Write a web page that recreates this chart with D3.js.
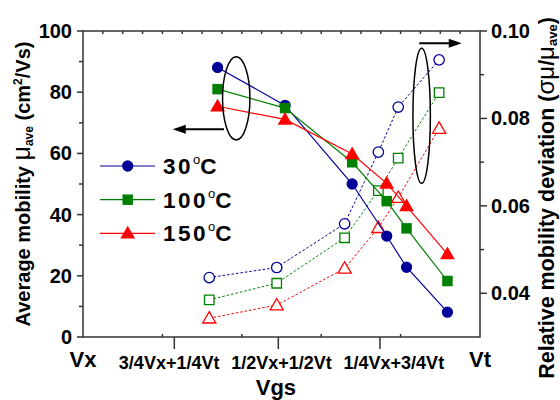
<!DOCTYPE html>
<head>
  <meta charset="utf-8">
  <script src="https://cdn.jsdelivr.net/npm/d3@7"></script>
  <style>
    body { margin: 0; background: #fff; }
    text {
      font-family: "Liberation Sans", Arial, sans-serif;
      font-weight: bold;
      fill: #000;
    }
    text.tickLabel { font-size: 20px; }
    text.catLabel { font-size: 18px; }
    text.endLabel { font-size: 22px; }
    text.axisTitle { font-size: 20px; }
    text.rightTitle { font-size: 21.5px; }
    text.legendText { font-size: 22.5px; }
    .frame { fill: none; stroke: #333; stroke-width: 1.5px; }
    .tick { stroke: #333; stroke-width: 1.5px; }
  </style>
</head>

<body>
  <svg width="560" height="400"></svg>
  <script>
    // ---- data ----
    const temps = ["30", "100", "150"];
    const colors = ["#000099", "#008000", "#ff0000"];
    const symbols = [d3.symbolCircle, d3.symbolSquare, d3.symbolTriangle];

    // x position of points, on a 0 (Vx) .. 10 (Vt) gate scale
    const xFilled = [3.39, 5.09, 6.78, 7.65, 8.15, 9.18];
    const xOpen = [3.18, 4.88, 6.59, 7.44, 7.94, 8.97];

    // average mobility (left axis)
    const mu30 = [88.1, 75.7, 50.0, 33.0, 22.8, 8.1];
    const mu100 = [81.0, 74.8, 57.1, 44.4, 35.5, 18.3];
    const mu150 = [75.4, 71.1, 59.8, 50.2, 42.8, 27.1];

    // relative mobility deviation (right axis)
    const dev30 = [0.0436, 0.0459, 0.0559, 0.0723, 0.0826, 0.0934];
    const dev100 = [0.0385, 0.0423, 0.0527, 0.0635, 0.0709, 0.0859];
    const dev150 = [0.0343, 0.0373, 0.0457, 0.0550, 0.0619, 0.0777];

    const leftTicks = [0, 20, 40, 60, 80, 100];
    const leftMinor = [10, 30, 50, 70, 90];
    const rightTicks = [0.04, 0.06, 0.08, 0.10];
    const rightMinor = [0.05, 0.07, 0.09];
    const catTicks = [2.3, 4.92, 7.48];
    const catLabels = ["3/4Vx+1/4Vt", "1/2Vx+1/2Vt", "1/4Vx+3/4Vt"];
    const catLabelPos = [2.17, 5.0, 7.83];

    const mus = [mu30, mu100, mu150];
    const devs = [dev30, dev100, dev150];

    // ---- layout ----
    const margin = { top: 31, right: 80, bottom: 63, left: 83 };
    const width = 560, height = 400;
    const svg = d3.select("svg");

    let x = d3.scaleLinear().domain([0, 10]).range([margin.left, width - margin.right]);
    let yL = d3.scaleLinear().domain([0, 100]).range([height - margin.bottom, margin.top]);
    let yR = d3.scaleLinear().domain([0.03, 0.10]).range([height - margin.bottom, margin.top]);

    const x0 = x.range()[0], x1 = x.range()[1];
    const yb = yL.range()[0], yt = yL.range()[1];

    // frame
    svg.append("rect").attr("class", "frame")
      .attr("x", x0).attr("y", yt)
      .attr("width", x1 - x0).attr("height", yb - yt);

    // left axis ticks (outward)
    svg.selectAll("line.lMaj").data(leftTicks).enter().append("line")
      .attr("class", "tick").attr("x1", x0 - 6).attr("x2", x0)
      .attr("y1", d => yL(d)).attr("y2", d => yL(d));
    svg.selectAll("line.lMin").data(leftMinor).enter().append("line")
      .attr("class", "tick").attr("x1", x0 - 4).attr("x2", x0)
      .attr("y1", d => yL(d)).attr("y2", d => yL(d));
    svg.selectAll("text.lLab").data(leftTicks).enter().append("text")
      .attr("class", "tickLabel")
      .attr("x", x0 - 11).attr("y", d => yL(d) + 7)
      .style("text-anchor", "end")
      .text(d => d);

    // right axis ticks (outward)
    svg.selectAll("line.rMaj").data(rightTicks).enter().append("line")
      .attr("class", "tick").attr("x1", x1).attr("x2", x1 + 7)
      .attr("y1", d => yR(d)).attr("y2", d => yR(d));
    svg.selectAll("line.rMin").data(rightMinor).enter().append("line")
      .attr("class", "tick").attr("x1", x1).attr("x2", x1 + 4)
      .attr("y1", d => yR(d)).attr("y2", d => yR(d));
    svg.selectAll("text.rLab").data(rightTicks).enter().append("text")
      .attr("class", "tickLabel")
      .attr("x", x1 + 11).attr("y", d => yR(d) + 7)
      .text(d => d3.format(".2f")(d));

    // top and bottom small inward ticks
    svg.selectAll("line.tMin").data(d3.range(1, 20).map(i => i / 2)).enter().append("line")
      .attr("class", "tick").attr("x1", d => x(d)).attr("x2", d => x(d))
      .attr("y1", yt).attr("y2", yt + 3);
    svg.selectAll("line.bMin").data([2, 4, 6, 8]).enter().append("line")
      .attr("class", "tick").attr("x1", d => x(d)).attr("x2", d => x(d))
      .attr("y1", yb).attr("y2", yb - 3);

    // category ticks below axis
    svg.selectAll("line.cat").data(catTicks).enter().append("line")
      .attr("class", "tick").attr("x1", d => x(d)).attr("x2", d => x(d))
      .attr("y1", yb).attr("y2", yb + 12);
    svg.selectAll("text.cat").data(catLabels).enter().append("text")
      .attr("class", "catLabel")
      .attr("x", (d, i) => x(catLabelPos[i])).attr("y", yb + 32)
      .style("text-anchor", "middle")
      .text(d => d);
    svg.append("text").attr("class", "endLabel")
      .attr("x", x(0)).attr("y", yb + 30).style("text-anchor", "middle").text("Vx");
    svg.append("text").attr("class", "endLabel")
      .attr("x", x(10)).attr("y", yb + 30).style("text-anchor", "middle").text("Vt");
    svg.append("text").attr("class", "endLabel")
      .attr("x", x(4.86)).attr("y", yb + 58).style("text-anchor", "middle").text("Vgs");

    // axis titles
    let lt = svg.append("text").attr("class", "axisTitle")
      .attr("transform", `translate(30, ${(yt + yb) / 2}) rotate(-90)`)
      .style("text-anchor", "middle");
    lt.append("tspan").text("Average mobility ");
    lt.append("tspan").style("font-size", "25px").style("font-weight", "normal").text("\u03bc");
    lt.append("tspan").style("font-size", "12px").attr("dy", 3).text("ave");
    lt.append("tspan").attr("dy", -3).text(" (cm");
    lt.append("tspan").style("font-size", "12px").attr("dy", -8).text("2");
    lt.append("tspan").attr("dy", 8).text("/Vs)");

    let rt = svg.append("text").attr("class", "rightTitle")
      .attr("transform", `translate(554, ${(yt + yb) / 2 + 14}) rotate(-90)`)
      .style("text-anchor", "middle");
    rt.append("tspan").text("Relative mobility deviation (");
    rt.append("tspan").style("font-size", "24px").style("font-weight", "normal").text("\u03c3\u03bc");
    rt.append("tspan").text("/");
    rt.append("tspan").style("font-size", "24px").style("font-weight", "normal").text("\u03bc");
    rt.append("tspan").style("font-size", "13px").attr("dy", 3).text("ave");
    rt.append("tspan").attr("dy", -3).text(")");

    // open series (right axis), dotted
    devs.forEach((s, k) => {
      let pts = s.map((v, i) => [xOpen[i], v]);
      svg.append("path")
        .datum(pts)
        .attr("fill", "none")
        .attr("stroke", colors[k])
        .attr("stroke-width", 1)
        .attr("stroke-dasharray", "2.5,2")
        .attr("d", d3.line().x(d => x(d[0])).y(d => yR(d[1])));
      svg.selectAll("path.open" + k).data(pts).enter().append("path")
        .attr("transform", d => `translate(${x(d[0])},${yR(d[1]) + (k == 2 ? 1 : 0)})`)
        .attr("d", d3.symbol().type(symbols[k]).size(k == 0 ? 85 : (k == 1 ? 90 : 75)))
        .attr("fill", "#fff")
        .attr("stroke", colors[k])
        .attr("stroke-width", 1.3);
    });

    // filled series (left axis), solid
    mus.forEach((s, k) => {
      let pts = s.map((v, i) => [xFilled[i], v]);
      svg.append("path")
        .datum(pts)
        .attr("fill", "none")
        .attr("stroke", colors[k])
        .attr("stroke-width", 1.2)
        .attr("d", d3.line().x(d => x(d[0])).y(d => yL(d[1])));
      svg.selectAll("path.fill" + k).data(pts).enter().append("path")
        .attr("transform", d => `translate(${x(d[0])},${yL(d[1]) + (k == 2 ? 1 : 0)})`)
        .attr("d", d3.symbol().type(symbols[k]).size(k == 0 ? 100 : (k == 1 ? 110 : 95)))
        .attr("fill", colors[k]);
    });

    // ellipses and arrows
    const arrowHead = (xa, ya, dir) => {
      svg.append("path")
        .attr("d", `M${xa},${ya} l${-13 * dir},-4.5 l0,9 z`)
        .attr("fill", "#000");
    };
    svg.append("ellipse")
      .attr("cx", x(3.86)).attr("cy", yL(78))
      .attr("rx", x(3.86 + 0.345) - x(3.86)).attr("ry", yL(78 - 13.6) - yL(78))
      .attr("fill", "none").attr("stroke", "#000").attr("stroke-width", 1.5);
    svg.append("line")
      .attr("x1", x(3.55)).attr("x2", x(2.4)).attr("y1", yL(67.9)).attr("y2", yL(67.9))
      .attr("stroke", "#000").attr("stroke-width", 2);
    arrowHead(x(2.26), yL(67.9), -1);

    svg.append("ellipse")
      .attr("cx", x(8.53)).attr("cy", yR(0.0806))
      .attr("rx", x(8.53 + 0.22) - x(8.53)).attr("ry", yR(0.0806 - 0.01544) - yR(0.0806))
      .attr("fill", "none").attr("stroke", "#000").attr("stroke-width", 1.5);
    svg.append("line")
      .attr("x1", x(8.47)).attr("x2", x(9.4)).attr("y1", yR(0.0972)).attr("y2", yR(0.0972))
      .attr("stroke", "#000").attr("stroke-width", 2);
    arrowHead(x(9.54), yR(0.0972), 1);

    // legend
    const legY = [166, 199.7, 233.3];
    temps.forEach((t, k) => {
      svg.append("line")
        .attr("x1", 100).attr("x2", 155).attr("y1", legY[k]).attr("y2", legY[k])
        .attr("stroke", colors[k]).attr("stroke-width", 1.2);
      svg.append("path")
        .attr("transform", `translate(127.7,${legY[k] + (k == 2 ? 1 : 0)})`)
        .attr("d", d3.symbol().type(symbols[k]).size(k == 0 ? 100 : (k == 1 ? 110 : 95)))
        .attr("fill", colors[k]);
      let lg = svg.append("text").attr("class", "legendText")
        .attr("x", 163).attr("y", legY[k] + 8);
      lg.append("tspan").style("letter-spacing", "2.5px").text(t);
      lg.append("tspan").style("font-size", "13px").style("font-weight", "normal").attr("dy", -10).text("o");
      lg.append("tspan").attr("dy", 10).text("C");
    });
  </script>
</body>
